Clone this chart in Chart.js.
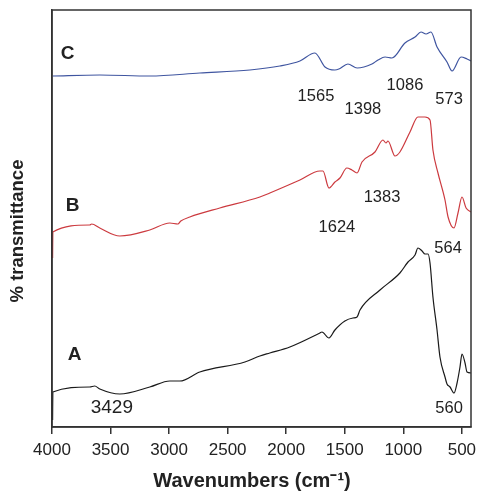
<!DOCTYPE html>
<html lang="en">
<head>
  <meta charset="UTF-8" />
  <title>FTIR spectra</title>
  <script src="https://cdn.jsdelivr.net/npm/chart.js"></script>
  <style>
    html, body { margin: 0; padding: 0; background: #fff; }
    #wrap { width: 485px; height: 500px; }
  </style>
</head>
<body>
  <div id="wrap"><canvas id="ftirChart" width="485" height="500"></canvas></div>

  <script>
    // wavenumber (cm-1) / transmittance (offset, arbitrary units)
    const waveC = [3995, 3592, 3165, 2738, 2310, 2054, 1883, 1755, 1669, 1584, 1550, 1473, 1395, 1268, 1216, 1156, 1097, 986, 900, 849, 806, 764, 712, 627, 584, 507, 456, 422];
    const transC = [351, 352, 351, 354, 357, 361, 366, 374, 360, 357, 358, 363, 359, 363, 367, 370, 369, 384, 390, 395, 393, 395, 380, 365, 356, 370, 368, 366];

    const waveB = [3995, 3993, 3678, 3661, 3592, 3421, 3165, 2994, 2925, 2900, 2823, 2567, 2225, 2140, 1883, 1712, 1686, 1635, 1584, 1541, 1482, 1439, 1395, 1353, 1242, 1174, 1148, 1131, 1071, 1029, 943, 875, 815, 772, 747, 704, 644, 618, 567, 533, 499, 464, 422];
    const transB = [169, 195, 202, 203, 199, 191, 197, 204, 203, 206, 210, 219, 230, 234, 247, 256, 256, 239, 245, 249, 259, 257, 254, 265, 275, 287, 284, 286, 271, 275, 295, 310, 310, 307, 277, 254, 227, 210, 199, 214, 230, 219, 215];

    const waveA = [3995, 3993, 3678, 3635, 3592, 3421, 3165, 2994, 2908, 2738, 2353, 2225, 2140, 1969, 1712, 1695, 1635, 1584, 1499, 1430, 1395, 1370, 1199, 1029, 960, 900, 875, 840, 815, 789, 772, 747, 712, 687, 644, 627, 601, 567, 541, 516, 499, 473, 456, 422];
    const transA = [7, 35, 40, 41, 38, 33, 40, 46, 46, 55, 65, 71, 74, 80, 94, 95, 89, 97, 106, 109, 110, 117, 137, 154, 165, 172, 179, 176, 173, 173, 164, 130, 97, 70, 50, 43, 40, 34, 44, 60, 73, 64, 55, 54];

    const tickValues = [4000, 3500, 3000, 2500, 2000, 1500, 1000, 500];

    // text labels: [text, wavenumber, transmittance, bold]
    const peakLabels = [
      ["C", 3866, 373, true],
      ["B", 3823, 221, true],
      ["A", 3806, 72, true],
      ["1565", 1746, 331, false],
      ["1398", 1345, 318, false],
      ["1086", 986, 342, false],
      ["573", 609, 328, false],
      ["1383", 1182, 230, false],
      ["1624", 1567, 200, false],
      ["564", 618, 179, false],
      ["3429", 3489, 19, false],
      ["560", 609, 19, false]
    ];

    function toPoints(xs, ys) {
      return xs.map((x, i) => ({ x: x, y: ys[i] }));
    }

    const FONT = "'Liberation Sans', Arial, Helvetica, sans-serif";

    const frameAndLabels = {
      id: "frameAndLabels",
      afterDatasetsDraw(chart) {
        const { ctx, chartArea: a, scales } = chart;
        ctx.save();
        ctx.strokeStyle = "#333";
        ctx.lineWidth = 1.5;
        ctx.strokeRect(a.left, a.top, a.right - a.left, a.bottom - a.top);

        ctx.fillStyle = "#222";
        ctx.textAlign = "center";
        ctx.textBaseline = "middle";
        peakLabels.forEach(([txt, wn, t, bold]) => {
          if (bold) ctx.font = "bold 19px " + FONT;
          else if (txt === "3429") ctx.font = "19px " + FONT;
          else ctx.font = "16.5px " + FONT;
          ctx.fillText(txt, scales.x.getPixelForValue(wn), scales.y.getPixelForValue(t));
        });

        // axis titles
        ctx.font = "bold 20px " + FONT;
        ctx.fillText("Wavenumbers (cm\u207B\u00B9)", 252, 481);
        ctx.translate(18, 231);
        ctx.rotate(-Math.PI / 2);
        ctx.font = "bold 18.5px " + FONT;
        ctx.fillText("% transmittance", 0, 0);
        ctx.restore();
      }
    };

    const ctx = document.getElementById("ftirChart").getContext("2d");
    new Chart(ctx, {
      type: "line",
      data: {
        datasets: [
          { label: "C", data: toPoints(waveC, transC), borderColor: "#3f55a0", borderWidth: 1.2, pointRadius: 0, fill: false, cubicInterpolationMode: "monotone" },
          { label: "B", data: toPoints(waveB, transB), borderColor: "#cc3a3f", borderWidth: 1.2, pointRadius: 0, fill: false, cubicInterpolationMode: "monotone" },
          { label: "A", data: toPoints(waveA, transA), borderColor: "#1a1a1a", borderWidth: 1.2, pointRadius: 0, fill: false, cubicInterpolationMode: "monotone" }
        ]
      },
      options: {
        responsive: false,
        animation: false,
        layout: { padding: { top: 10, right: 14, left: 0, bottom: 0 } },
        plugins: { legend: { display: false }, tooltip: { enabled: false } },
        scales: {
          x: {
            type: "linear",
            reverse: true,
            min: 422,
            max: 4000,
            afterBuildTicks: (scale) => { scale.ticks = tickValues.map(v => ({ value: v })); },
            afterFit: (scale) => { scale.height = 73; },
            grid: { drawOnChartArea: false, drawTicks: true, tickLength: 7, color: "#333", lineWidth: 1.5 },
            border: { display: true, color: "#333", width: 1.5 },
            ticks: { color: "#222", font: { family: FONT, size: 17 }, padding: 6, maxRotation: 0, callback: (v) => String(v) },
            title: { display: false }
          },
          y: {
            min: 0,
            max: 417,
            afterFit: (scale) => { scale.width = 52; },
            grid: { display: false },
            border: { display: true, color: "#333", width: 1.5 },
            ticks: { display: false },
            title: { display: false }
          }
        }
      },
      plugins: [frameAndLabels]
    });
  </script>
</body>
</html>
